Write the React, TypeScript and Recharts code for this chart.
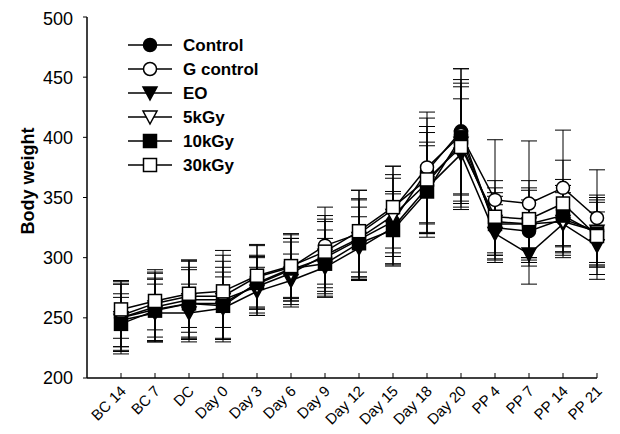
import { LineChart, Line, XAxis, YAxis, ErrorBar } from "recharts";

const categories = ["BC 14", "BC 7", "DC", "Day 0", "Day 3", "Day 6", "Day 9", "Day 12", "Day 15", "Day 18", "Day 20", "PP 4", "PP 7", "PP 14", "PP 21"];

const control = [250, 257, 262, 262, 278, 290, 300, 315, 330, 372, 405, 325, 322, 332, 322];
const gControl = [252, 262, 268, 268, 284, 292, 310, 320, 340, 375, 402, 348, 345, 358, 333];
const eo = [248, 254, 254, 258, 272, 281, 292, 308, 325, 358, 386, 320, 303, 328, 310];
const kGy5 = [250, 259, 265, 265, 276, 287, 302, 316, 335, 362, 395, 330, 328, 330, 322];
const kGy10 = [245, 256, 262, 260, 279, 291, 295, 312, 323, 355, 400, 328, 328, 335, 320];
const kGy30 = [257, 264, 270, 272, 285, 293, 305, 322, 342, 365, 392, 334, 332, 345, 318];

const controlErr = [28, 26, 28, 30, 24, 26, 30, 34, 36, 44, 52, 26, 26, 28, 26];
const gControlErr = [26, 28, 30, 38, 26, 28, 32, 36, 36, 46, 55, 50, 52, 48, 40];
const eoErr = [22, 24, 24, 26, 20, 22, 24, 26, 30, 38, 46, 24, 25, 26, 28];
const kGy5Err = [30, 28, 32, 32, 24, 26, 30, 32, 34, 42, 50, 28, 30, 30, 30];
const kGy10Err = [22, 26, 30, 28, 22, 25, 28, 30, 30, 38, 48, 26, 28, 30, 26];
const kGy30Err = [24, 24, 28, 30, 26, 26, 30, 34, 34, 44, 50, 30, 32, 36, 32];

const yTicks = [200, 250, 300, 350, 400, 450, 500];

const data = categories.map((name, i) => ({
  name,
  control: control[i], controlErr: controlErr[i],
  gControl: gControl[i], gControlErr: gControlErr[i],
  eo: eo[i], eoErr: eoErr[i],
  kGy5: kGy5[i], kGy5Err: kGy5Err[i],
  kGy10: kGy10[i], kGy10Err: kGy10Err[i],
  kGy30: kGy30[i], kGy30Err: kGy30Err[i],
}));

const FONT = "'Liberation Sans', Arial, Helvetica, sans-serif";

type Kind = "circle" | "triangle" | "square";

function Marker({ cx, cy, kind, filled }: { cx: number; cy: number; kind: Kind; filled: boolean }) {
  const fill = filled ? "#000" : "#fff";
  if (cx == null || cy == null) return null;
  if (kind === "circle")
    return <circle cx={cx} cy={cy} r={6.5} fill={fill} stroke="#000" strokeWidth={1.5} />;
  if (kind === "triangle")
    return (
      <polygon
        points={`${cx - 7},${cy - 6} ${cx + 7},${cy - 6} ${cx},${cy + 7}`}
        fill={fill}
        stroke="#000"
        strokeWidth={1.5}
      />
    );
  return <rect x={cx - 6.5} y={cy - 6.5} width={13} height={13} fill={fill} stroke="#000" strokeWidth={1.5} />;
}

const series: { key: string; label: string; kind: Kind; filled: boolean }[] = [
  { key: "control", label: "Control", kind: "circle", filled: true },
  { key: "gControl", label: "G control", kind: "circle", filled: false },
  { key: "eo", label: "EO", kind: "triangle", filled: true },
  { key: "kGy5", label: "5kGy", kind: "triangle", filled: false },
  { key: "kGy10", label: "10kGy", kind: "square", filled: true },
  { key: "kGy30", label: "30kGy", kind: "square", filled: false },
];

function XTick(props: any) {
  const { x, y, payload } = props;
  const ax = x + 6;
  const ay = y + 14;
  return (
    <g>
      <line x1={x} x2={x} y1={y} y2={y - 5} stroke="#000" strokeWidth={1} />
      <text
        x={ax}
        y={ay}
        textAnchor="end"
        transform={`rotate(-45, ${ax}, ${ay})`}
        fontFamily={FONT}
        fontSize={15}
        fill="#000"
      >
        {payload.value}
      </text>
    </g>
  );
}

function YLabel() {
  return (
    <text
      x={26}
      y={173}
      transform="rotate(-90, 26, 173)"
      textAnchor="middle"
      fontFamily={FONT}
      fontWeight="bold"
      fontSize={18}
      fill="#000"
    >
      Body weight
    </text>
  );
}

function LegendBox() {
  return (
    <svg width={200} height={150} style={{ position: "absolute", left: 115, top: 25 }}>
      {series.map((s, i) => {
        const cy = 12 + 24 * i;
        return (
          <g key={s.key}>
            <line x1={5} x2={49} y1={cy} y2={cy} stroke="#000" strokeWidth={1.5} />
            <Marker cx={27} cy={cy} kind={s.kind} filled={s.filled} />
            <text x={60} y={cy + 6} fontFamily={FONT} fontWeight="bold" fontSize={17} fill="#000">
              {s.label}
            </text>
          </g>
        );
      })}
    </svg>
  );
}

export default function App() {
  // negative bottom margin keeps the page from scrolling past the 434px window
  return (
    <div style={{ position: "relative", width: 604, height: 426, marginBottom: -8 }}>
      <LineChart width={604} height={426} data={data} margin={{ top: 9, right: 15, left: 0, bottom: 0 }}>
        <XAxis
          dataKey="name"
          height={56}
          padding={{ left: 34, right: 0 }}
          axisLine={{ stroke: "#000", strokeWidth: 1.5 }}
          tickLine={false}
          tickSize={0}
          tickMargin={0}
          interval={0}
          tick={<XTick />}
        />
        <YAxis
          width={79}
          domain={[200, 500]}
          ticks={yTicks}
          type="number"
          axisLine={{ stroke: "#000", strokeWidth: 1.5 }}
          tickLine={{ stroke: "#000" }}
          tickSize={4}
          tickMargin={10}
          tick={{ fontFamily: FONT, fontSize: 18, fill: "#000" }}
          label={<YLabel />}
        />
        {series.map((s) => (
          <Line
            key={s.key}
            dataKey={s.key}
            stroke="#000"
            strokeWidth={1.5}
            isAnimationActive={false}
            activeDot={false}
            dot={(p: any) => (
              <Marker key={`${s.key}-${p.index}`} cx={p.cx} cy={p.cy} kind={s.kind} filled={s.filled} />
            )}
          >
            <ErrorBar
              dataKey={`${s.key}Err`}
              width={8}
              stroke="#000"
              strokeWidth={1}
              direction="y"
              isAnimationActive={false}
            />
          </Line>
        ))}
      </LineChart>
      <LegendBox />
    </div>
  );
}
